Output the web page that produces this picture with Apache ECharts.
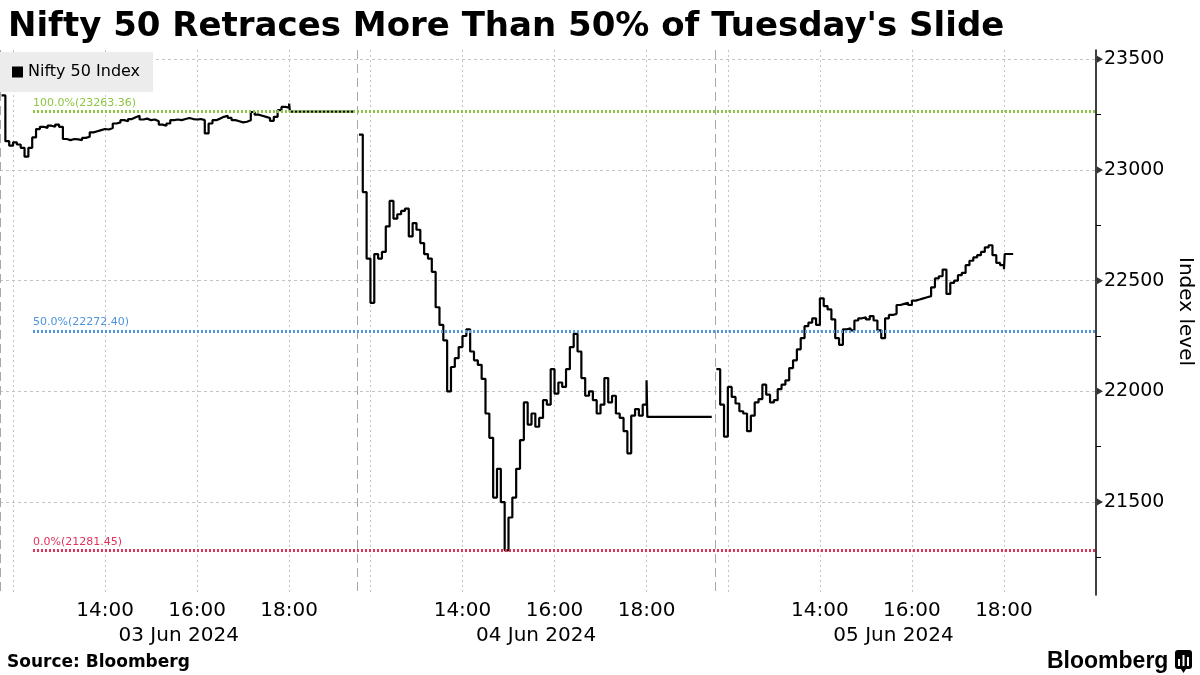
<!DOCTYPE html>
<html><head><meta charset="utf-8">
<script src="https://cdn.jsdelivr.net/npm/echarts@6/dist/echarts.min.js"></script>
<style>html,body{margin:0;padding:0;background:#fff}#c{width:1200px;height:675px}</style>
</head><body><div id="c"></div>
<script>
const TITLE = "Nifty 50 Retraces More Than 50% of Tuesday's Slide";
const SOURCE = 'Source: Bloomberg';
const SERIES_NAME = 'Nifty 50 Index';
const Y_NAME = 'Index level';
const DAYS = ['03 Jun 2024', '04 Jun 2024', '05 Jun 2024'];
const SESSION_START = '11:43';
const SESSION_END = '19:29';
const DATA_START = '11:45';
const SAMPLE_MINUTES = 5;
const GRID_TIMES = ['12:00', '14:00', '16:00', '18:00'];
const LABEL_TIMES = ['14:00', '16:00', '18:00'];
const Y_TICKS = [21500, 22000, 22500, 23000, 23500];
const Y_MINOR_TICKS = [21250, 21750, 22250, 22750, 23250];
const FIB_LEVELS = [23263.36, 22272.40, 21281.45];
const FIB_NAMES = ['100.0%', '50.0%', '0.0%'];

// Index values every 5 minutes from 11:45 to 18:00 for each day
const DAY1 = [
23337,23130,23110,23125,23115,23100,23060,23100,23147,23185,
23195,23190,23200,23195,23205,23195,23140,23135,23140,23138,
23135,23145,23150,23170,23175,23180,23185,23183,23190,23210,
23215,23225,23220,23230,23238,23245,23228,23232,23225,23228,
23220,23205,23200,23210,23225,23228,23225,23230,23235,23230,
23228,23230,23225,23165,23210,23225,23232,23240,23245,23235,
23225,23220,23215,23218,23225,23262,23250,23245,23240,23235,
23222,23240,23270,23285,23282,23300
];
const DAY2 = [
23160,22900,22600,22400,22620,22600,22630,22745,22860,22780,
22800,22815,22825,22700,22760,22730,22670,22620,22600,22540,
22380,22300,22230,22000,22110,22150,22200,22250,22280,22180,
22140,22120,22056,21900,21790,21520,21650,21500,21282,21430,
21520,21650,21780,21950,21850,21900,21840,21880,21960,21940,
22100,21990,22040,22020,22100,22200,22260,22180,22060,21980,
22000,21960,21900,21940,22060,21950,21980,21900,21880,21820,
21720,21890,21920,21890,21940,22050
];
const DAY3 = [
22100,21940,21795,22020,21975,21945,21910,21900,21820,21890,
21950,21965,22030,21985,21950,21960,22010,22030,22050,22105,
22140,22190,22240,22295,22310,22330,22300,22420,22385,22370,
22325,22240,22210,22280,22285,22275,22320,22330,22335,22325,
22340,22320,22275,22240,22330,22345,22350,22390,22395,22400,
22390,22410,22415,22420,22425,22430,22470,22510,22520,22550,
22440,22490,22500,22525,22535,22570,22590,22605,22615,22630,
22650,22660,22615,22580,22570,22552
];
const CLOSES = [23263.90, 21884.50, 22620.35];
const CLOSE_TIMES = ['18:01', '18:01', '18:01'];
const FLAT_END_TIMES = ['19:24', '19:24', '18:12'];

// ---- layout / style constants ----
const Y_MIN = 21080, Y_MAX = 23542;
const X_PAD_MINUTES = 31;
const FIB_START_MINUTES = 43;
const FIB_COLORS = ['#8cc63f', '#4d94db', '#e0315a'];
const FONT = "'DejaVu Sans', sans-serif";

function toMin(t) { const p = t.split(':').map(Number); return p[0] * 60 + p[1]; }
const START = toMin(SESSION_START);
const DAY_SPAN = toMin(SESSION_END) - START;
const X_MAX = DAYS.length * DAY_SPAN + X_PAD_MINUTES;
function pos(d, t) { return d * DAY_SPAN + toMin(t) - START; }
function fmt(m) {
  const r = ((m % DAY_SPAN) + DAY_SPAN) % DAY_SPAN + START;
  const h = Math.floor(r / 60), mm = Math.round(r % 60);
  return (h < 10 ? '0' : '') + h + ':' + (mm < 10 ? '0' : '') + mm;
}

const gridTickValues = [], labelTickValues = [], daySepValues = [], dayCenters = [];
DAYS.forEach((d, i) => {
  GRID_TIMES.forEach(t => gridTickValues.push(pos(i, t)));
  LABEL_TIMES.forEach(t => labelTickValues.push(pos(i, t)));
  daySepValues.push(i * DAY_SPAN);
  dayCenters.push(i * DAY_SPAN + DAY_SPAN / 2);
});

const points = [];
[DAY1, DAY2, DAY3].forEach((vals, d) => {
  const s = pos(d, DATA_START);
  vals.forEach((v, i) => points.push([s + i * SAMPLE_MINUTES, v]));
  points.push([pos(d, CLOSE_TIMES[d]), CLOSES[d]]);
  points.push([pos(d, FLAT_END_TIMES[d]), CLOSES[d]]);
  if (d < 2) points.push([pos(d, FLAT_END_TIMES[d]) + 1, '-']);
});

const chart = echarts.init(document.getElementById('c'), null, { renderer: 'canvas' });
chart.setOption({
  animation: false,
  backgroundColor: '#ffffff',
  textStyle: { fontFamily: FONT },
  title: {
    text: TITLE, left: 3, top: 5,
    textStyle: { fontFamily: FONT, fontSize: 34, fontWeight: 'bold', color: '#000' }
  },
  legend: {
    left: 0, top: 52, orient: 'horizontal',
    backgroundColor: '#ececec', padding: [12, 13, 12, 12],
    itemWidth: 11, itemHeight: 11, itemGap: 6, icon: 'rect',
    textStyle: { fontFamily: FONT, fontSize: 16, color: '#000', padding: [0, 0, 0, 0] },
    data: [SERIES_NAME]
  },
  grid: { left: 0, right: 104, top: 50, bottom: 80, containLabel: false, outerBoundsMode: 'none' },
  xAxis: [
    {
      type: 'value', min: 0, max: X_MAX, position: 'bottom',
      axisLine: { show: false, onZero: false },
      axisTick: { show: false, customValues: gridTickValues },
      axisLabel: { customValues: labelTickValues, formatter: v => fmt(v), fontFamily: FONT, fontSize: 20, color: '#000', margin: 6, lineHeight: 20 },
      splitLine: { show: true, lineStyle: { color: '#c4c4c4', width: 1, type: [2, 3] } }
    },
    {
      type: 'value', min: 0, max: X_MAX, position: 'bottom',
      axisLine: { show: false, onZero: false },
      axisTick: { show: false, customValues: daySepValues },
      axisLabel: { show: false },
      splitLine: { show: true, lineStyle: { color: '#a8a8a8', width: 1, type: [9, 5] } }
    },
    {
      type: 'value', min: 0, max: X_MAX, position: 'bottom', offset: 25,
      axisLine: { show: false, onZero: false },
      axisTick: { show: false, customValues: dayCenters },
      axisLabel: { customValues: dayCenters, formatter: v => DAYS[Math.floor(v / DAY_SPAN)], fontFamily: FONT, fontSize: 20, color: '#000', margin: 6, lineHeight: 20 },
      splitLine: { show: false }
    }
  ],
  yAxis: [
    {
      type: 'value', position: 'right', min: Y_MIN, max: Y_MAX,
      axisLine: { show: true, onZero: false, lineStyle: { color: '#000', width: 1.5 } },
      axisTick: { show: false, customValues: Y_TICKS },
      axisLabel: { customValues: Y_TICKS, formatter: v => String(v), fontFamily: FONT, fontSize: 19, color: '#000', margin: 8, padding: [3, 0, 0, 0] },
      splitLine: { show: true, lineStyle: { color: '#c4c4c4', width: 1, type: [3, 3] } },
      name: Y_NAME, nameLocation: 'middle', nameRotate: -90, nameGap: 76,
      nameTextStyle: { fontFamily: FONT, fontSize: 20, color: '#000', padding: [0, 22, 0, 0] }
    },
    {
      type: 'value', position: 'right', min: Y_MIN, max: Y_MAX,
      axisLine: { show: false, onZero: false },
      axisTick: { show: true, customValues: Y_MINOR_TICKS, length: 5, lineStyle: { color: '#000', width: 1 } },
      axisLabel: { show: false },
      splitLine: { show: false }
    }
  ],
  series: [{
    name: SERIES_NAME, type: 'line', xAxisIndex: 0, yAxisIndex: 0,
    data: points, step: 'end', showSymbol: false, symbol: 'none',
    connectNulls: false,
    lineStyle: { color: '#000', width: 2.2 },
    itemStyle: { color: '#000' },
    markLine: {
      silent: true, symbol: ['none', 'none'], animation: false,
      data: FIB_LEVELS.map((v, k) => [
        {
          coord: [FIB_START_MINUTES, v],
          lineStyle: { color: FIB_COLORS[k], type: [2, 2], width: 3 },
          label: { show: true, position: 'insideStartTop', distance: [0, 3], formatter: FIB_NAMES[k] + '(' + v.toFixed(2) + ')', color: FIB_COLORS[k], fontFamily: FONT, fontSize: 11 }
        },
        { coord: [X_MAX, v] }
      ])
    }
  }, {
    name: 'major ticks', type: 'scatter', xAxisIndex: 0, yAxisIndex: 0,
    data: Y_TICKS.map(v => [X_MAX, v]),
    symbol: 'triangle', symbolRotate: -90, symbolSize: [7, 6], symbolOffset: [4, 0],
    itemStyle: { color: '#000' }, clip: false, silent: true, z: 5
  }],
  graphic: [
    { type: 'text', left: 7, top: 654, style: { text: SOURCE, fontFamily: FONT, fontSize: 17, fontWeight: 'bold', fill: '#000' } },
    { type: 'text', left: 1047, top: 650, style: { text: 'Bloomberg', fontFamily: "'Liberation Sans', Arial, sans-serif", fontSize: 23, fontWeight: 'bold', fill: '#000' } },
    { type: 'group', left: 1175, top: 650, children: [
      { type: 'rect', shape: { x: 0, y: 0, width: 17, height: 19, r: 3 }, style: { fill: '#000' } },
      { type: 'rect', shape: { x: 3, y: 9, width: 2, height: 7 }, style: { fill: '#fff' } },
      { type: 'rect', shape: { x: 7.5, y: 5, width: 2, height: 11 }, style: { fill: '#fff' } },
      { type: 'rect', shape: { x: 12, y: 7, width: 2, height: 9 }, style: { fill: '#fff' } },
      { type: 'polygon', shape: { points: [[6, 19], [11, 19], [8.5, 23]] }, style: { fill: '#000' } }
    ]}
  ]
});
</script>
</body></html>
